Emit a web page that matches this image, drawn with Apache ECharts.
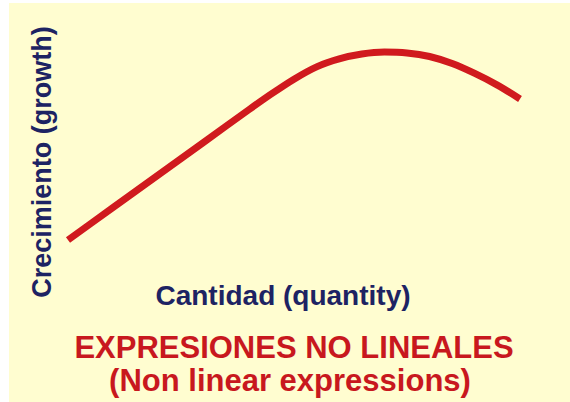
<!DOCTYPE html>
<html>
<head>
<meta charset="utf-8">
<script src="https://cdn.jsdelivr.net/npm/echarts@6/dist/echarts.min.js"></script>
<style>
  html, body { margin: 0; padding: 0; background: #ffffff; width: 570px; height: 402px; overflow: hidden; }
  #chart { position: absolute; left: 9px; top: 3px; width: 561px; height: 399px; }
</style>
</head>
<body>
<div id="chart"></div>
<script>
// Quantity (x) and growth (y) values
const quantity = [0, 1, 2, 3, 4, 4.5, 5, 5.5, 6, 6.5, 7, 7.5, 8, 8.5, 9, 9.5, 10];
const growth   = [0.91, 2.39, 3.87, 5.35, 6.83, 7.55, 8.22, 8.78, 9.14, 9.36, 9.45, 9.41, 9.25, 8.93, 8.48, 7.95, 7.32];

const xAxisName = 'Cantidad (quantity)';
const yAxisName = 'Crecimiento (growth)';
const titleLine1 = 'EXPRESIONES NO LINEALES';
const titleLine2 = '(Non linear expressions)';

const points = quantity.map((q, i) => [q, growth[i]]);

const font = '"Liberation Sans", Arial, sans-serif';
const navy = '#1d2363';
const red = '#c8181e';

const chart = echarts.init(document.getElementById('chart'), null, { renderer: 'svg' });
chart.setOption({
  backgroundColor: '#fffdd0',
  animation: false,
  title: [
    {
      text: titleLine1,
      left: 285, top: 329, textAlign: 'center', padding: 0,
      textStyle: { fontFamily: font, fontWeight: 'bold', fontSize: 31, lineHeight: 31, color: red }
    },
    {
      text: titleLine2,
      left: 281, top: 362, textAlign: 'center', padding: 0,
      textStyle: { fontFamily: font, fontWeight: 'bold', fontSize: 31, lineHeight: 31, color: red }
    }
  ],
  grid: { left: 59, right: 50, top: 37, bottom: 142 },
  xAxis: {
    type: 'value', min: 0, max: 10,
    name: xAxisName, nameLocation: 'middle', nameGap: 21,
    nameTextStyle: { fontFamily: font, fontWeight: 'bold', fontSize: 28, color: navy, padding: [0, 22, 0, 0] },
    axisLine: { show: false }, axisTick: { show: false }, axisLabel: { show: false }, splitLine: { show: false }
  },
  yAxis: {
    type: 'value', min: 0, max: 10,
    name: yAxisName, nameLocation: 'middle', nameGap: 13, nameRotate: 90,
    nameTextStyle: { fontFamily: font, fontWeight: 'bold', fontSize: 27, color: navy, padding: [0, 24, 0, 0] },
    axisLine: { show: false }, axisTick: { show: false }, axisLabel: { show: false }, splitLine: { show: false }
  },
  series: [{
    type: 'line',
    data: points,
    smooth: 0.3,
    showSymbol: false,
    lineStyle: { color: '#d01a1e', width: 7, cap: 'butt' }
  }]
});
</script>
</body>
</html>
